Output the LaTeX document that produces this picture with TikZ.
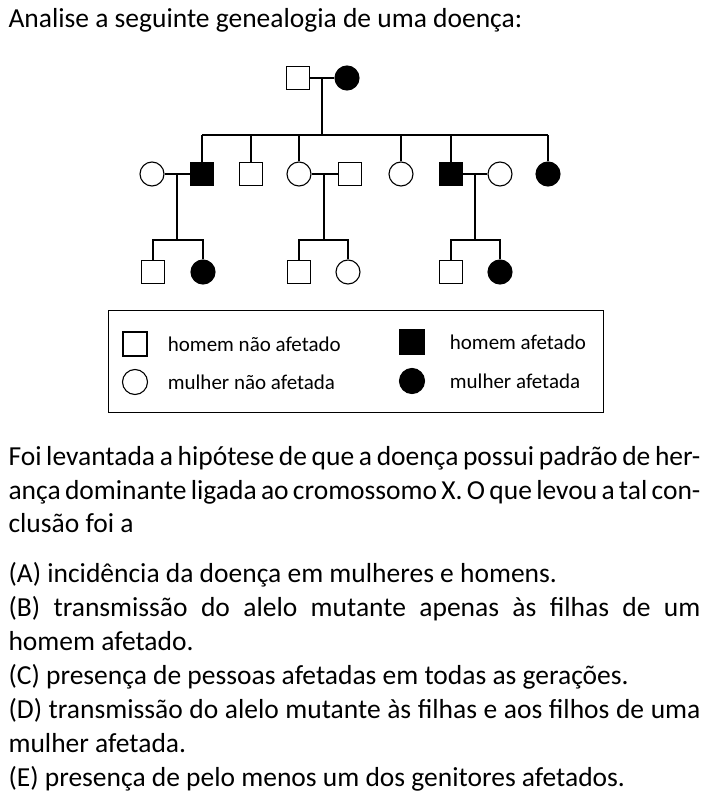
\documentclass[tikz,border=0pt]{standalone}
\usepackage{fontspec}
\setmainfont{Carlito}
\begin{document}
\begin{tikzpicture}[x=1pt,y=1pt,yscale=-1,line width=1.1pt,
  male/.style={draw,rectangle,minimum size=23pt,inner sep=0pt},
  female/.style={draw,circle,minimum size=24pt,inner sep=0pt},
  aff/.style={fill=black},
  txt/.style={anchor=north west,inner sep=0pt,font=\fontsize{27.5}{33.5}\selectfont},
  opt/.style={txt,text width=692pt,align=justify},
  leg/.style={anchor=west,font=\fontsize{21}{24}\selectfont}]
\useasboundingbox (0,0) rectangle (709,805);

% Title
\node[txt] (title) at (8,8) {Analise a seguinte genealogia de uma doença:};

% Generation I
\node[male] (gf) at (298,78) {};
\node[female,aff] (gm) at (347,78) {};
\draw (gf) -- (gm);
\coordinate (c1) at (322,78);
\coordinate (s1) at (322,135);
\draw (c1) -- (s1);
\draw (202,135) -- (548,135);

% Generation II
\node[female] (w1) at (152,174) {};
\node[male,aff] (h1) at (202,174) {};
\node[male] (h2) at (251,174) {};
\node[female] (w3) at (299,174) {};
\node[male] (h3) at (350,174) {};
\node[female] (w4) at (401,174) {};
\node[male,aff] (h4) at (451,174) {};
\node[female] (w5) at (500,174) {};
\node[female,aff] (w6) at (548,174) {};
\foreach \n/\x in {h1/202,h2/251,w3/299,w4/401,h4/451,w6/548}
  \draw (\n.north) -- (\x,135);
\draw (w1) -- (h1);
\draw (w3) -- (h3);
\draw (h4) -- (w5);

% Generation III
\node[male] (k1) at (153,272) {};
\node[female,aff] (k2) at (203,272) {};
\node[male] (k3) at (299,272) {};
\node[female] (k4) at (348,272) {};
\node[male] (k5) at (451,272) {};
\node[female,aff] (k6) at (500,272) {};
\foreach \cx/\a/\b in {177/k1/k2,324/k3/k4,475/k5/k6}{
  \draw (\cx,174) -- (\cx,240);
  \draw (\a.north) |- (\cx,240) -| (\b.north);
}

% Legend
\draw[line width=0.9pt] (108,310) rectangle (603,412);
\node[male,minimum size=24pt] (l1) at (135,344) {};
\node[male,aff,minimum size=24pt] (l2) at (412,342) {};
\node[female,minimum size=25pt] (l3) at (135,382) {};
\node[female,aff,minimum size=25pt] (l4) at (412,381) {};
\node[leg] at (164,344) {homem não afetado};
\node[leg] at (446,342) {homem afetado};
\node[leg] at (164,382) {mulher não afetada};
\node[leg] at (446,381) {mulher afetada};

% Question text
\node[opt] (q) at (8,446) {Foi levantada a hipótese de que a doença possui padrão de herança dominante ligada ao cromossomo X. O que levou a tal conclusão foi a};
\node[opt] (oa) at (8,562) {(A)~incidência da doença em mulheres e homens.};
\node[opt] (ob) at (8,596) {\hangindent=40pt\hangafter=1 (B)~transmissão do alelo mutante apenas às filhas de um homem afetado.};
\node[opt] (oc) at (8,664) {(C)~presença de pessoas afetadas em todas as gerações.};
\node[opt] (od) at (8,698) {\hangindent=40pt\hangafter=1 (D)~transmissão do alelo mutante às filhas e aos filhos de uma mulher afetada.};
\node[opt] (oe) at (8,766) {(E)~presença de pelo menos um dos genitores afetados.};
\end{tikzpicture}
\end{document}
